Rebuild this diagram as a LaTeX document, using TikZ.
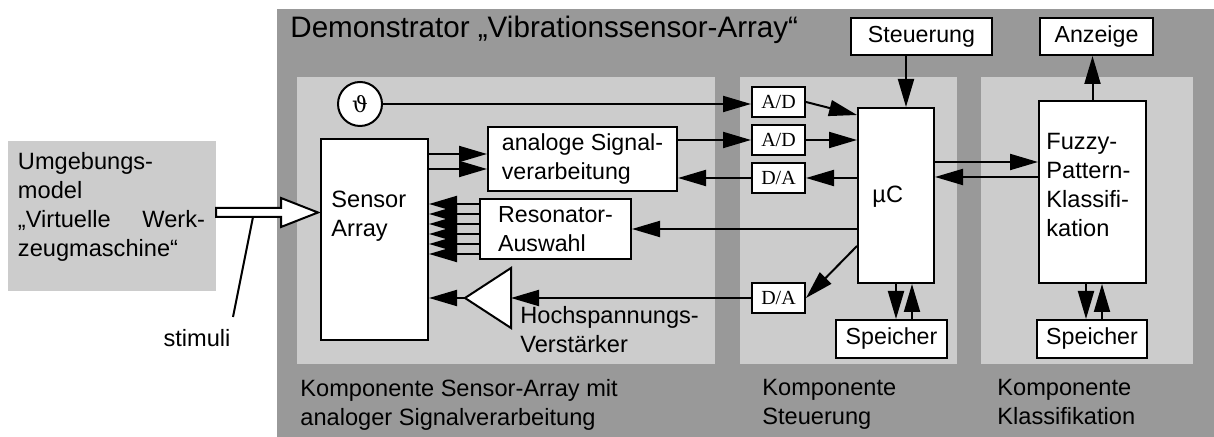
\documentclass[tikz,border=0pt]{standalone}
\usepackage{fontspec}
\setmainfont{Liberation Sans}
\newfontfamily\convfont{Liberation Serif}
\newfontfamily\greekfont{DejaVu Serif}
\usetikzlibrary{arrows.meta,positioning}
\definecolor{framegray}{gray}{0.6}
\definecolor{panelgray}{gray}{0.8}
\tikzset{
  box/.style={draw, fill=white, line width=1pt, inner sep=0pt, align=left, font=\fontsize{11.6}{14.5}\selectfont},
  conv/.style={box, font=\convfont\fontsize{10}{12}\selectfont, minimum width=26.5pt, minimum height=15pt},
  flow/.style={line width=1pt, -{Triangle[length=14pt,width=8pt]}},
  txt/.style={font=\fontsize{11.8}{14.5}\selectfont, inner sep=0pt, align=left},
}
\begin{document}
\begin{tikzpicture}[x=0.5pt,y=-0.5pt]
    \useasboundingbox (0,0) rectangle (1214,437);
    % Frames
        % Demonstrator
        \fill[framegray] (277,9) rectangle (1214,437);
        % Components
        \fill[panelgray] (297,77) rectangle (715,364);
        \fill[panelgray] (740,77) rectangle (957,364);
        \fill[panelgray] (981,77) rectangle (1193,364);
    % Environment model
        \node[fill=panelgray, minimum width=104pt, minimum height=75pt, inner sep=0pt] (umg) at (112,216) {};
        \node[txt, text width=93.5pt, anchor=north west] (umgtxt) at ([xshift=5pt,yshift=-5.5pt]umg.north west)
            {Umgebungs-\\model\\„Virtuelle\hfill Werk-\\zeugmaschine“};
    % Sensor array component
        \node[box, minimum width=53.5pt, minimum height=100.5pt] (sensor) at (374.5,239.5) {};
        \node[txt, anchor=north west] (sensortxt) at ([xshift=5.5pt,yshift=-26.5pt]sensor.north west) {Sensor\\Array};
        \node[box, circle, minimum size=22pt, font=\greekfont\fontsize{11}{13}\selectfont] (theta) at (360,104) {ϑ};
        \node[box, minimum width=94.5pt, minimum height=32pt] (analog) at (582.5,159) {analoge Signal-\\verarbeitung};
        \node[box, minimum width=75.5pt, minimum height=30pt] (reso) at (555.5,229) {Resonator-\\Auswahl};
        \draw[line width=1pt, fill=white] (511,268) coordinate (ampt) -- (511,328) coordinate (ampb)
            -- (465,298) coordinate (ampl) -- cycle;
        \coordinate (ampr) at (511,298);
        \node[txt, anchor=north west] (amptxt) at (520,306) {Hochspannungs-\\Verstärker};
    % Control component
        \node[conv] (ad1) at (778.5,102) {A/D};
        \node[conv] (ad2) at (778.5,140) {A/D};
        \node[conv] (da1) at (778.5,178) {D/A};
        \node[conv] (da2) at (778.5,298) {D/A};
        \node[box, minimum width=38pt, minimum height=87.5pt] (mc) at (896,195.5) {};
        \node[txt, anchor=base west] (mctxt) at ([xshift=7.5pt,yshift=-3.75pt]mc.west) {µC};
        \node[box, minimum width=70.5pt, minimum height=18.5pt] (steu) at (921.5,36.5) {Steuerung};
        \node[box, minimum width=55.5pt, minimum height=19pt] (mem1) at (891.5,339) {Speicher};
    % Classification component
        \node[box, minimum width=53.5pt, minimum height=91pt] (fuzzy) at (1092.5,192) {};
        \node[txt, anchor=north west] (fuzzytxt) at ([xshift=4pt,yshift=-16.5pt]fuzzy.north west)
            {Fuzzy-\\Pattern-\\Klassifi-\\kation};
        \node[box, minimum width=56.5pt, minimum height=18.5pt] (anz) at (1096.5,36.5) {Anzeige};
        \node[box, minimum width=55pt, minimum height=19pt] (mem2) at (1092,339) {Speicher};
    % Stimuli
        \draw[line width=1pt, fill=white] (216,208) -- (281,208) -- (281,198) -- (318,212.5)
            -- (281,227) -- (281,217) -- (216,217) -- cycle;
        \coordinate (stimpt) at (253,217);
        \node[txt, anchor=base] (stimtxt) at (197,347) {stimuli};
        \draw[line width=1pt] (stimpt) -- (233,317);
    % Signals
        \draw[flow] (theta.east) -- (theta.east -| ad1.west);
        \foreach \dy in {2.5,-5}{
            \draw[flow] ([yshift=\dy pt]analog.west -| sensor.east) -- ([yshift=\dy pt]analog.west);
        }
        \foreach \dy in {12.5,7.5,2.5,-2.5,-7.5,-12.5}{
            \draw[flow] ([yshift=\dy pt]reso.west) -- ([yshift=\dy pt]reso.west -| sensor.east);
        }
        \draw[flow] (analog.east |- ad2.west) -- (ad2.west);
        \draw[flow] (da1.west) -- (da1.west -| analog.east);
        \draw[flow] (ad1.east) -- ([yshift=-4pt]mc.north west);
        \draw[flow] (ad2.east) -- (ad2.east -| mc.west);
        \draw[flow] (da1.east -| mc.west) -- (da1.east);
        \draw[flow] (mc.west |- reso.east) -- (reso.east);
        \draw[flow] ([yshift=19pt]mc.south west) -- (da2.east);
        \draw[flow] (da2.west) -- (ampr);
        \draw[flow] (ampl) -- (ampl -| sensor.east);
        \draw[flow] ([xshift=-7.75pt]steu.south) -- ([xshift=-7.75pt]steu.south |- mc.north);
        \draw[flow] (mc.south) -- (mc.south |- mem1.north);
        \draw[flow] ([xshift=8pt]mc.south |- mem1.north) -- ([xshift=8pt]mc.south);
        \draw[flow] ([yshift=15pt]fuzzy.west -| mc.east) -- ([yshift=15pt]fuzzy.west);
        \draw[flow] ([yshift=7.5pt]fuzzy.west) -- ([yshift=7.5pt]fuzzy.west -| mc.east);
        \draw[flow] (fuzzy.north) -- (fuzzy.north |- anz.south);
        \draw[flow] ([xshift=-3pt]mem2.north |- fuzzy.south) -- ([xshift=-3pt]mem2.north);
        \draw[flow] ([xshift=5pt]mem2.north) -- ([xshift=5pt]mem2.north |- fuzzy.south);
    % Labels
        \node[txt, font=\fontsize{14.8}{17}\selectfont, anchor=base west] (title) at (290,38)
            {Demonstrator „Vibrationssensor-Array“};
        \node[txt, anchor=north west] (lblsensor) at (300,379) {Komponente Sensor-Array mit\\analoger Signalverarbeitung};
        \node[txt, anchor=north west] (lblsteu) at (762,379) {Komponente\\Steuerung};
        \node[txt, anchor=north west] (lblklass) at (997,379) {Komponente\\Klassifikation};
\end{tikzpicture}
\end{document}
